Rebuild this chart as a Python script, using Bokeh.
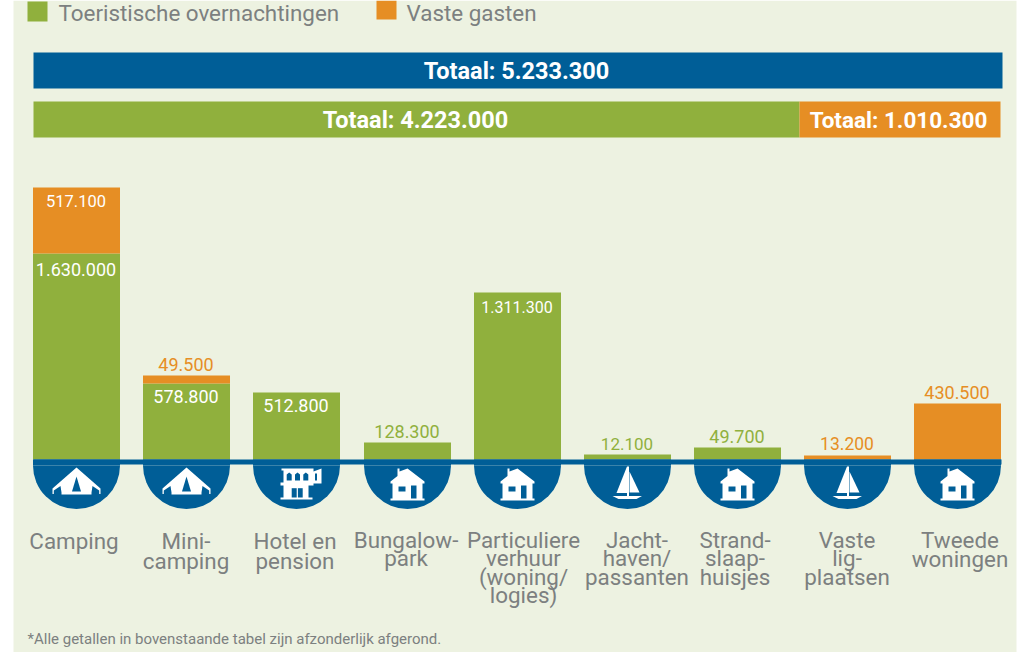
import math
from bokeh.plotting import figure, ColumnDataSource
from bokeh.core.properties import value
from bokeh.embed import file_html
from bokeh.resources import INLINE

# ---- data
categories = ["Camping", "Mini-\ncamping", "Hotel en\npension", "Bungalow-\npark",
              "Particuliere\nverhuur\n(woning/\nlogies)", "Jacht-\nhaven/\npassanten",
              "Strand-\nslaap-\nhuisjes", "Vaste\nlig-\nplaatsen", "Tweede\nwoningen"]
toeristisch_labels = ["1.630.000", "578.800", "512.800", "128.300", "1.311.300", "12.100", "49.700", "", ""]
vast_labels = ["517.100", "49.500", "", "", "", "", "", "13.200", "430.500"]
# the source graphic is not to scale: the heights as drawn, in picture units
toeristisch_drawn = [206, 76, 67, 17, 167, 5, 12, 0, 0]
vast_drawn = [66, 8, 0, 0, 0, 0, 0, 4, 56]
icons = ["tent", "tent", "hotel", "house", "house", "boat", "house", "boat", "house"]
legend_labels = ["Toeristische overnachtingen", "Vaste gasten"]
total_labels = ["Totaal: 5.233.300", "Totaal: 4.223.000", "Totaal: 1.010.300"]
footnote = "*Alle getallen in bovenstaande tabel zijn afzonderlijk afgerond."

# ---- style / layout
BG, BLUE, GREEN, ORANGE, GREY = "#EDF2E1", "#005E97", "#90B03D", "#E68E24", "#7C8080"
FONT = value("Roboto")
W, H, BASE = 1032, 652, 459
BAR_W = 87
centers = [76, 186, 296, 407, 517, 627, 737, 847, 957]
label_x = [73.5, 185.5, 294.5, 405.5, 523, 636.5, 734.5, 846.5, 959.5]
label_y0 = [540.5, 540.5, 540.5, 539.5, 539.5, 539.5, 539.5, 539.5, 539.5]
label_pitch = [20, 20, 19.5, 18.3, 18.3, 18.3, 18.3, 18.3, 18.5]


def Y(px):
    return BASE - px


p = figure(width=W, height=H, x_range=(0, W), y_range=(Y(H), Y(0)), toolbar_location=None,
           output_backend="svg", min_border=0, outline_line_color=None,
           background_fill_color="white", border_fill_color="white", margin=(0, 0, 0, 0))
p.xaxis.visible = False
p.yaxis.visible = False
p.grid.visible = False

# panel
p.quad(left=[13], right=[1016], bottom=[Y(H)], top=[Y(0)], fill_color=BG, line_color=None)

# legend
p.quad(left=[27], right=[47], top=[Y(1)], bottom=[Y(21)], fill_color=GREEN, line_color=None)
p.quad(left=[376], right=[396], top=[Y(0)], bottom=[Y(19)], fill_color=ORANGE, line_color=None)


def txt(x, y, t, size, color, style="normal", align="center"):
    p.text(x=[x], y=[Y(y)], text=[t], text_font=FONT, text_font_size=f"{size}px", text_color=color,
           text_font_style=style, text_align=align, text_baseline="middle")


txt(58, 12, legend_labels[0], 22.4, GREY, align="left")
txt(406, 12, legend_labels[1], 22.4, GREY, align="left")

# total bars
p.quad(left=[33], right=[1002], top=[Y(52)], bottom=[Y(88)], fill_color=BLUE, line_color=None)
p.quad(left=[33], right=[799], top=[Y(101)], bottom=[Y(137)], fill_color=GREEN, line_color=None)
p.quad(left=[799], right=[1000], top=[Y(101)], bottom=[Y(137)], fill_color=ORANGE, line_color=None)
txt(516, 70, total_labels[0], 23.5, "white", "bold")
txt(415, 119, total_labels[1], 23.5, "white", "bold")
txt(898, 119, total_labels[2], 22.5, "white", "bold")

# stacked bars
src = ColumnDataSource(dict(x=centers, g=toeristisch_drawn,
                            o=[a + b for a, b in zip(toeristisch_drawn, vast_drawn)]))
p.vbar(x="x", width=BAR_W, bottom=0, top="g", source=src, fill_color=GREEN, line_color=None)
p.vbar(x="x", width=BAR_W, bottom="g", top="o", source=src, fill_color=ORANGE, line_color=None)

# baseline and half-round icon holders
p.quad(left=[33], right=[1001], top=[Y(459)], bottom=[Y(464)], fill_color=BLUE, line_color=None)
p.quad(left=[c - BAR_W / 2 for c in centers], right=[c + BAR_W / 2 for c in centers],
       top=[Y(459)] * 9, bottom=[Y(465)] * 9, fill_color=BLUE, line_color=None)
p.wedge(x=centers, y=[Y(465)] * 9, radius=BAR_W / 2, start_angle=math.pi, end_angle=2 * math.pi,
        fill_color=BLUE, line_color=None)

# icons: polygons (dx, depth under the baseline)
TENT = [("w", [(0, 8), (24, 29), (24, 34.5), (22.7, 34.5), (22.7, 31), (16, 26.5), (15, 33), (15, 35),
               (-15, 35), (-15, 33), (-16, 26.5), (-22.7, 31), (-22.7, 34.5), (-24, 34.5), (-24, 29)]),
        ("b", [(0, 17), (4.5, 32), (-4.5, 32)])]
HOUSE = [("w", [(-10, 9), (-8, 9), (-8, 12), (0, 9), (17, 22), (17, 24), (15, 24), (15, 39),
                (17, 39), (17, 41), (-17, 41), (-17, 39), (-15, 39), (-15, 24), (-17, 24),
                (-17, 22), (-10, 16.5)]),
         ("b", [(-9, 27), (-2, 27), (-2, 32), (-9, 32)]),
         ("b", [(3.5, 26), (9, 26), (9, 39), (3.5, 39)])]
HOTEL = [("w", [(-15, 9), (17, 9), (17, 12), (25, 9), (25, 24), (17, 24), (17, 26), (12, 26),
                (12, 38), (16, 38), (16, 40), (-16, 40), (-16, 38), (-13, 38), (-13, 26),
                (-16, 26), (-16, 23), (-13, 23), (-13, 11), (-15, 11)]),
         ("b", [(-9.8, 15), (-7.3, 13), (-4.8, 15), (-4.8, 21), (-9.8, 21)]),
         ("b", [(-1.5, 15), (1, 13), (3.5, 15), (3.5, 21), (-1.5, 21)]),
         ("b", [(6.8, 15), (9.3, 13), (11.8, 15), (11.8, 21), (6.8, 21)]),
         ("b", [(18.5, 14), (20.5, 14), (20.5, 21), (18.5, 21)]),
         ("b", [(-4.8, 28.7), (0.2, 28.7), (0.2, 38), (-4.8, 38)]),
         ("b", [(1.4, 28.7), (6.2, 28.7), (6.2, 38), (1.4, 38)])]
BOAT = [("w", [(-0.5, 7), (-0.5, 33.5), (-11, 33.5)]),
        ("w", [(2, 12), (12, 33), (2, 33)]),
        ("w", [(-0.5, 7), (1.5, 7), (1.5, 37), (-0.5, 37)]),
        ("w", [(-15, 36.5), (14.5, 36.5), (9, 39.5), (-9, 39.5)])]
SHAPES = dict(tent=TENT, house=HOUSE, hotel=HOTEL, boat=BOAT)

for c, name in zip(centers, icons):
    for col, poly in SHAPES[name]:
        p.patch(x=[c + dx for dx, _ in poly], y=[-d for _, d in poly],
                fill_color="white" if col == "w" else BLUE, line_color=None)

# value labels
value_y_g = [269, 396, 405, 431, 306, 443, 436, None, None]
value_y_o = [200, 364, None, None, None, None, None, 443, 392]
size_g = [18, 18, 18, 18, 16, 17, 18, 18, 18]
size_o = [16.5, 18, 18, 18, 18, 18, 18, 17.5, 18]
green_in_bar = [True, True, True, False, True, False, False, False, False]
orange_in_bar = [True, False, False, False, False, False, False, False, False]
for i, c in enumerate(centers):
    if toeristisch_labels[i]:
        txt(c - 0.5, value_y_g[i], toeristisch_labels[i], size_g[i], "white" if green_in_bar[i] else GREEN)
    if vast_labels[i]:
        txt(c - 0.5, value_y_o[i], vast_labels[i], size_o[i], "white" if orange_in_bar[i] else ORANGE)

# category labels
for lx, ly, pitch, name in zip(label_x, label_y0, label_pitch, categories):
    for j, line in enumerate(name.split("\n")):
        txt(lx, ly + j * pitch, line, 22.4, GREY)

txt(27, 638, footnote, 15, GREY, align="left")

open("out.html", "w").write(file_html(p, INLINE))
